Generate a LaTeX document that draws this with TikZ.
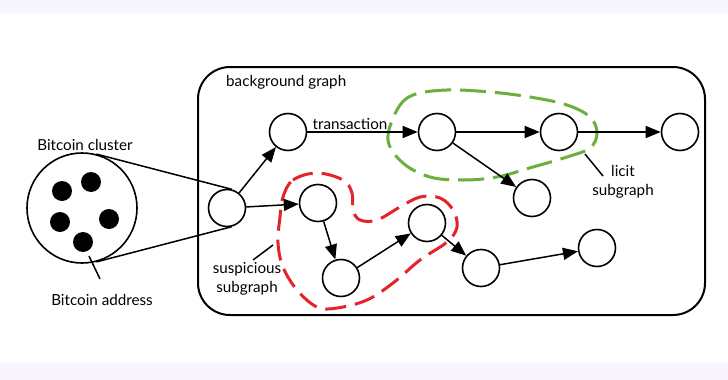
\documentclass[tikz,border=0pt]{standalone}
\usepackage{fontspec}
\setmainfont{Lato}
\usetikzlibrary{arrows.meta}
\definecolor{band}{HTML}{F8F5FE}
\definecolor{licitgreen}{HTML}{6BAF3D}
\definecolor{susred}{HTML}{E3242B}
\begin{document}
\begin{tikzpicture}[x=1pt,y=-1pt,
  vtx/.style={circle,draw,line width=1.6pt,minimum size=37pt,inner sep=0pt,fill=white},
  addr/.style={circle,fill=black,minimum size=20pt,inner sep=0pt},
  edge/.style={line width=1.5pt,-{Triangle[length=15pt,width=12pt]}},
  plain/.style={line width=1.5pt},
  lbl/.style={font=\fontsize{15.2}{18.5}\selectfont,inner sep=0pt,align=center},
  licit/.style={draw=licitgreen,line width=3pt,dash pattern=on 26pt off 9pt},
  susp/.style={draw=susred,line width=3pt,dash pattern=on 21pt off 9pt}]
\useasboundingbox (0,0) rectangle (728,380);
\fill[band] (0,0) rectangle (728,380);
\fill[white] (0,13) rectangle (728,363);

% background graph frame
\draw[line width=2pt,rounded corners=32pt] (198,67) rectangle (705,315);
\node[lbl,anchor=west] (bglbl) at (226,82) {background graph};

% cluster
\node[circle,draw,line width=1.6pt,minimum size=110pt,inner sep=0pt] (cl) at (82,208) {};
\node[addr] (d1) at (62,191) {};
\node[addr] (d2) at (91,182) {};
\node[addr] (d3) at (60,222) {};
\node[addr] (d4) at (109,219) {};
\node[addr] (d5) at (83,242) {};
\node[lbl] (cllbl) at (85,145) {Bitcoin cluster};
\node[lbl] (adlbl) at (102,300) {Bitcoin address};
\coordinate (adA) at (89,256);
\coordinate (adB) at (100,279);
\draw[plain] (adA) -- (adB);

% vertices
\node[vtx] (A) at (227,208) {};
\node[vtx] (B) at (288,132) {};
\node[vtx] (C) at (437,132) {};
\node[vtx] (D) at (559,132) {};
\node[vtx] (E) at (680,132) {};
\node[vtx] (F) at (532,198) {};
\node[vtx] (G) at (318,203) {};
\node[vtx] (H) at (341,278) {};
\node[vtx] (I) at (427,223) {};
\node[vtx] (J) at (481,268) {};
\node[vtx] (K) at (597,248) {};

% cluster tangents
\draw[plain] (cl.75.4) -- (A.75.4);
\draw[plain] (cl.-75.4) -- (A.-75.4);

% subgraph outlines
\draw[licit] plot[smooth cycle,tension=0.6] coordinates {
  (388,140) (397,110) (413,95) (447,90) (490,92) (530,97) (567,105)
  (590,117) (597,133) (590,148) (567,157) (533,167) (497,177)
  (463,180) (430,177) (403,163)};
\draw[susp] plot[smooth cycle,tension=0.6] coordinates {
  (283,197) (293,180) (317,173) (343,180) (352,193) (353,210) (360,220)
  (377,220) (400,207) (420,197) (440,198) (453,210) (457,227) (447,242)
  (420,260) (393,283) (367,300) (337,308) (317,307) (297,290)
  (283,267) (278,243) (280,217)};

% edges
\draw[edge] (A) -- (B);
\draw[edge] (B) -- (C);
\node[lbl] (txlbl) at (350,124) {transaction};
\draw[edge] (C) -- (D);
\draw[edge] (D) -- (E);
\draw[edge] (C) -- (F);
\draw[edge] (A) -- (G);
\draw[edge] (G) -- (H);
\draw[edge] (H) -- (I);
\draw[edge] (I) -- (J);
\draw[edge] (J) -- (K);

% labels
\node[lbl] (licitlbl) at (623,182) {licit\\subgraph};
\coordinate (liA) at (585,154);
\coordinate (liB) at (603,176);
\draw[plain] (liA) -- (liB);
\node[lbl] (suslbl) at (247,279) {suspicious\\subgraph};
\coordinate (suA) at (273,245);
\coordinate (suB) at (253,260);
\draw[plain] (suA) -- (suB);
\end{tikzpicture}
\end{document}
